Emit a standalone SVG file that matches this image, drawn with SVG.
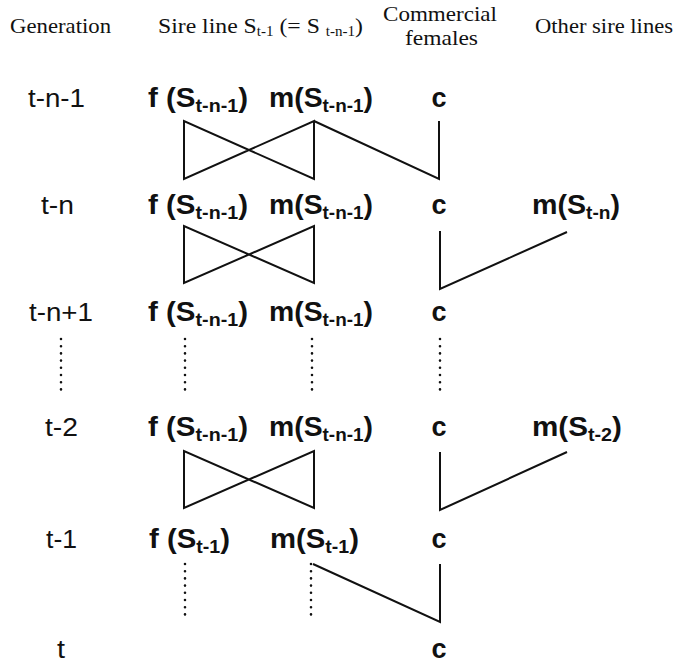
<svg xmlns="http://www.w3.org/2000/svg" width="676" height="664" viewBox="0 0 676 664">
<style>
.h{font-family:"Liberation Serif","Times New Roman",serif;font-size:22px;fill:#111}
.hs{font-size:14px}
.g{font-family:"Liberation Sans",Arial,sans-serif;font-size:26px;fill:#111}
.b{font-family:"Liberation Sans",Arial,sans-serif;font-size:27px;font-weight:bold;fill:#111}
.s{font-size:18px}
.ln{fill:none;stroke:#111;stroke-width:2;stroke-linejoin:miter}
.dt{fill:none;stroke:#111;stroke-width:2.6;stroke-linecap:round;stroke-dasharray:0 7.2}
</style>
<rect width="676" height="664" fill="#fff"/>
<g id="headers">
<text class="h" x="10" y="33" textLength="101" lengthAdjust="spacingAndGlyphs">Generation</text>
<text class="h" x="158" y="33" textLength="205" lengthAdjust="spacingAndGlyphs">Sire line S<tspan class="hs" dy="3">t-1</tspan><tspan dy="-3"> (= S </tspan><tspan class="hs" dy="3">t-n-1</tspan><tspan dy="-3">)</tspan></text>
<text class="h" x="383" y="21" textLength="114" lengthAdjust="spacingAndGlyphs">Commercial</text>
<text class="h" x="405" y="45" textLength="73" lengthAdjust="spacingAndGlyphs">females</text>
<text class="h" x="535" y="33" textLength="138" lengthAdjust="spacingAndGlyphs">Other sire lines</text>
</g>
<g id="gen-labels">
<text id="gen-t-n-1" class="g" x="28" y="107" textLength="57" lengthAdjust="spacingAndGlyphs">t-n-1</text>
<text id="gen-t-n" class="g" x="41" y="214" textLength="33" lengthAdjust="spacingAndGlyphs">t-n</text>
<text id="gen-t-n+1" class="g" x="29" y="321" textLength="64" lengthAdjust="spacingAndGlyphs">t-n+1</text>
<text id="gen-t-2" class="g" x="45" y="436" textLength="33" lengthAdjust="spacingAndGlyphs">t-2</text>
<text id="gen-t-1" class="g" x="46" y="548" textLength="31" lengthAdjust="spacingAndGlyphs">t-1</text>
<text id="gen-t" class="g" x="57" y="658" textLength="8" lengthAdjust="spacingAndGlyphs">t</text>
</g>
<g id="row1">
<g id="f1"><text class="b" x="148" y="107" textLength="100" lengthAdjust="spacingAndGlyphs">f (S<tspan class="s" dy="5">t-n-1</tspan><tspan dy="-5">)</tspan></text></g>
<g id="m1"><text class="b" x="269" y="107" textLength="104" lengthAdjust="spacingAndGlyphs">m(S<tspan class="s" dy="5">t-n-1</tspan><tspan dy="-5">)</tspan></text></g>
<g id="c1"><text class="b" x="439" y="107" text-anchor="middle">c</text></g>
</g>
<g id="row2">
<g id="f2"><text class="b" x="148" y="214" textLength="100" lengthAdjust="spacingAndGlyphs">f (S<tspan class="s" dy="5">t-n-1</tspan><tspan dy="-5">)</tspan></text></g>
<g id="m2"><text class="b" x="269" y="214" textLength="104" lengthAdjust="spacingAndGlyphs">m(S<tspan class="s" dy="5">t-n-1</tspan><tspan dy="-5">)</tspan></text></g>
<g id="c2"><text class="b" x="439" y="214" text-anchor="middle">c</text></g>
<g id="o2"><text class="b" x="532" y="214" textLength="88" lengthAdjust="spacingAndGlyphs">m(S<tspan class="s" dy="5">t-n</tspan><tspan dy="-5">)</tspan></text></g>
</g>
<g id="row3">
<g id="f3"><text class="b" x="148" y="321" textLength="100" lengthAdjust="spacingAndGlyphs">f (S<tspan class="s" dy="5">t-n-1</tspan><tspan dy="-5">)</tspan></text></g>
<g id="m3"><text class="b" x="269" y="321" textLength="104" lengthAdjust="spacingAndGlyphs">m(S<tspan class="s" dy="5">t-n-1</tspan><tspan dy="-5">)</tspan></text></g>
<g id="c3"><text class="b" x="439" y="321" text-anchor="middle">c</text></g>
</g>
<g id="row4">
<g id="f4"><text class="b" x="148" y="436" textLength="100" lengthAdjust="spacingAndGlyphs">f (S<tspan class="s" dy="5">t-n-1</tspan><tspan dy="-5">)</tspan></text></g>
<g id="m4"><text class="b" x="269" y="436" textLength="104" lengthAdjust="spacingAndGlyphs">m(S<tspan class="s" dy="5">t-n-1</tspan><tspan dy="-5">)</tspan></text></g>
<g id="c4"><text class="b" x="439" y="436" text-anchor="middle">c</text></g>
<g id="o4"><text class="b" x="532" y="436" textLength="90" lengthAdjust="spacingAndGlyphs">m(S<tspan class="s" dy="5">t-2</tspan><tspan dy="-5">)</tspan></text></g>
</g>
<g id="row5">
<g id="f5"><text class="b" x="149" y="548" textLength="81" lengthAdjust="spacingAndGlyphs">f (S<tspan class="s" dy="5">t-1</tspan><tspan dy="-5">)</tspan></text></g>
<g id="m5"><text class="b" x="270" y="548" textLength="89" lengthAdjust="spacingAndGlyphs">m(S<tspan class="s" dy="5">t-1</tspan><tspan dy="-5">)</tspan></text></g>
<g id="c5"><text class="b" x="439" y="548" text-anchor="middle">c</text></g>
</g>
<g id="row6">
<g id="c6"><text class="b" x="439" y="658" text-anchor="middle">c</text></g>
</g>
<g id="connectors">
<path class="ln" d="M184,121 L184,179 L314,121 L314,179 L184,121 Z"/>
<path class="ln" d="M314,121 L439,179 L439,121"/>
<path class="ln" d="M184,226 L184,283 L314,226 L314,283 Z"/>
<path class="ln" d="M440,231 L440,289 L567,232"/>
<path class="dt" d="M61,339 V396 M185,339 V396 M312,339 V396 M440,339 V396"/>
<path class="ln" d="M184,451 L184,508 L314,451 L314,508 Z"/>
<path class="ln" d="M440,452 L440,510 L567,452"/>
<path class="dt" d="M185,564 V619 M311,564 V619"/>
<path class="ln" d="M313,564 L440,622 L440,564"/>
</g>
</svg>
